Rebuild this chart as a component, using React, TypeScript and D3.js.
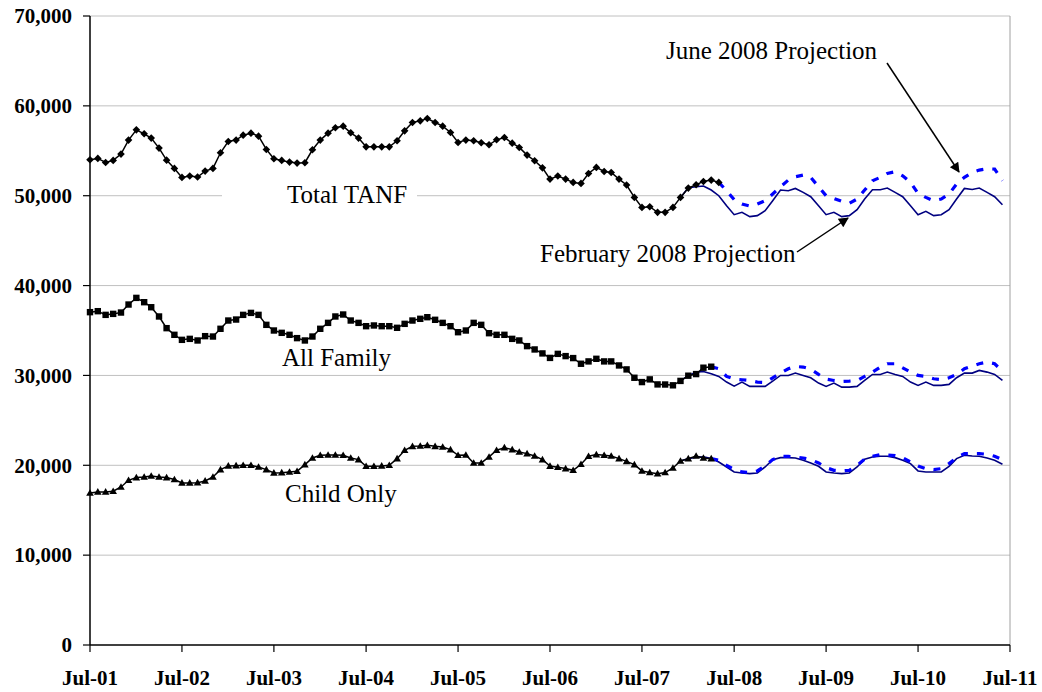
import React from 'react'
import * as d3 from 'd3'

// monthly caseloads, Jul-01 onward
const totalTanf = [
  54000, 54150, 53700, 53930, 54630, 56190, 57330, 56890, 56410, 55300, 53960, 53040,
  52040, 52190, 52080, 52740, 53040, 54780, 56040, 56190, 56740, 56960, 56630, 55150,
  54110, 53930, 53740, 53630, 53670, 55110, 56190, 56960, 57560, 57740, 57000, 56410,
  55440, 55440, 55440, 55440, 56110, 57220, 58150, 58330, 58590, 58150, 57740, 57040,
  55930, 56190, 56110, 55890, 55670, 56220, 56480, 55850, 55370, 54520, 53890, 53100,
  51850, 52200, 51850, 51480, 51370, 52480, 53150, 52700, 52590, 51850, 51190, 49810,
  48700, 48780, 48150, 48150, 48700, 49810, 50850, 51220, 51590, 51740, 51480,
]
const allFamily = [
  37040, 37150, 36740, 36850, 37000, 37890, 38630, 38150, 37590, 36560, 35260, 34520,
  33960, 34070, 33890, 34370, 34330, 35190, 36110, 36220, 36740, 36960, 36740, 35630,
  35000, 34740, 34520, 34150, 33890, 34330, 35190, 35850, 36560, 36780, 36110, 35850,
  35480, 35560, 35480, 35480, 35300, 35740, 36110, 36300, 36480, 36190, 35850, 35480,
  34810, 35000, 35850, 35630, 34700, 34520, 34520, 34070, 33890, 33260, 32890, 32450,
  31950, 32400, 32150, 31930, 31300, 31560, 31850, 31560, 31560, 31110, 30670, 29740,
  29260, 29560, 29000, 28990, 28900, 29390, 29970, 30150, 30860, 30970,
]
const childOnly = [
  16920, 17040, 17040, 17110, 17590, 18330, 18630, 18700, 18810, 18700, 18630, 18410,
  18040, 18040, 18070, 18260, 18700, 19520, 19930, 19960, 20000, 20000, 19810, 19520,
  19150, 19180, 19260, 19330, 20070, 20810, 21110, 21150, 21150, 21110, 20810, 20630,
  19890, 19890, 19930, 20000, 20740, 21670, 22110, 22150, 22220, 22110, 22040, 21740,
  21110, 21150, 20260, 20260, 20930, 21670, 21960, 21740, 21480, 21300, 21040, 20630,
  19910, 19780, 19630, 19440, 20110, 21000, 21190, 21110, 21040, 20740, 20440, 20070,
  19370, 19190, 19070, 19190, 19700, 20480, 20740, 21040, 20810, 20740,
]

// February 2008 projection, Dec-07 to Jun-11
const febStart = 77
const febTotal = [
  49810, 50890, 51000, 51080, 50630, 50000, 48890, 47890, 48150, 47670, 47780, 48330,
  49440, 50630, 50560, 50810, 50370, 49890, 48890, 47890, 48150, 47670, 47780, 48440,
  49630, 50670, 50670, 50850, 50370, 49890, 48890, 47890, 48260, 47780, 47890, 48440,
  49630, 50810, 50700, 50850, 50370, 49890, 49000,
]
const febAllFamily = [
  29390, 29970, 30370, 30440, 30190, 29890, 29260, 28810, 29260, 28780, 28780, 28780,
  29370, 30000, 30000, 30260, 30000, 29740, 29150, 28780, 29150, 28700, 28700, 28780,
  29440, 30110, 30110, 30370, 30110, 29890, 29260, 28890, 29260, 28890, 28890, 29000,
  29740, 30260, 30260, 30560, 30370, 30110, 29440,
]
const febChildOnly = [
  20480, 20740, 20890, 20930, 20740, 20370, 19810, 19260, 19150, 19070, 19150, 19810,
  20630, 20850, 20850, 20810, 20560, 20260, 19890, 19260, 19150, 19070, 19150, 19810,
  20670, 20930, 21000, 21000, 20850, 20560, 20190, 19370, 19260, 19260, 19260, 19890,
  20740, 21110, 21040, 21000, 20810, 20560, 20110,
]

// June 2008 projection, from last actual month to Jun-11
const junTotalStart = 82
const junTotal = [
  51480, 50560, 49560, 49070, 48850, 49070, 49440, 50190, 51000, 51740, 52110, 52300,
  52040, 51000, 50000, 49700, 49370, 49150, 49630, 50630, 51670, 52040, 52480, 52670,
  52220, 51480, 50260, 49810, 49440, 49630, 50190, 51300, 52040, 52590, 52850, 53000,
  52960, 51670,
]
const junStart = 81
const junAllFamily = [
  30970, 30740, 29890, 29590, 29520, 29440, 29260, 29220, 29740, 30260, 30740, 31000,
  30930, 30700, 30110, 29590, 29440, 29330, 29370, 29440, 29890, 30370, 30930, 31300,
  31300, 30850, 30370, 30000, 29890, 29630, 29520, 29740, 30110, 30740, 31040, 31300,
  31480, 31300, 30480,
]
const junChildOnly = [
  20740, 20560, 20000, 19520, 19260, 19190, 19370, 19930, 20630, 21000, 21000, 20930,
  20810, 20630, 20260, 19740, 19440, 19370, 19440, 20000, 20670, 21000, 21190, 21150,
  21070, 20850, 20370, 19930, 19630, 19520, 19630, 20190, 20850, 21300, 21300, 21300,
  21220, 21000, 20630,
]

const yTicks = [0, 10000, 20000, 30000, 40000, 50000, 60000, 70000]
const xTickLabels = ['Jul-01', 'Jul-02', 'Jul-03', 'Jul-04', 'Jul-05', 'Jul-06', 'Jul-07', 'Jul-08', 'Jul-09', 'Jul-10', 'Jul-11']

const startDate = new Date(2001, 6, 1)
const monthDate = (i: number) => d3.timeMonth.offset(startDate, i)
const toPoints = (vals: number[], start: number) => vals.map((v, k) => ({ date: monthDate(start + k), value: v }))

const FONT = "'Times New Roman', 'Liberation Serif', serif"

export default function App() {
  const width = 1042
  const height = 692
  const left = 90, right = 1010, top = 16, bottom = 645

  const x = d3.scaleTime()
    .domain([startDate, monthDate(120)])
    .range([left, right])
  const y = d3.scaleLinear()
    .domain([0, 70000])
    .range([bottom, top])

  const line = d3.line<{ date: Date; value: number }>()
    .x((d) => x(d.date))
    .y((d) => y(d.value))

  const actual = [
    { key: 'total', pts: toPoints(totalTanf, 0), marker: 'diamond' },
    { key: 'family', pts: toPoints(allFamily, 0), marker: 'square' },
    { key: 'child', pts: toPoints(childOnly, 0), marker: 'triangle' },
  ]
  const feb = [febTotal, febAllFamily, febChildOnly].map((v) => toPoints(v, febStart))
  const jun = [
    toPoints(junTotal, junTotalStart),
    toPoints(junAllFamily, junStart),
    toPoints(junChildOnly, junStart),
  ]

  const marker = (type: string, cx: number, cy: number, key: string) => {
    if (type === 'diamond') {
      const r = 3.8
      return <path key={key} d={`M${cx},${cy - r}L${cx + r},${cy}L${cx},${cy + r}L${cx - r},${cy}Z`} fill="#000" />
    }
    if (type === 'square') {
      return <rect key={key} x={cx - 3.2} y={cy - 3.2} width={6.4} height={6.4} fill="#000" />
    }
    return <path key={key} d={`M${cx},${cy - 3.8}L${cx + 3.8},${cy + 2.8}L${cx - 3.8},${cy + 2.8}Z`} fill="#000" />
  }

  return (
    <svg width={width} height={height} style={{ position: 'absolute', left: 0, top: 0, background: '#fff' }}
      fontFamily={FONT}>
      <defs>
        <marker id="arrow" viewBox="0 0 10 10" refX="9" refY="5" markerWidth="12" markerHeight="10"
          markerUnits="userSpaceOnUse" orient="auto">
          <path d="M0,0L10,5L0,10Z" fill="#000" />
        </marker>
      </defs>

      {/* gridlines */}
      {yTicks.filter((t) => t > 0).map((t) => (
        <line key={t} x1={left} x2={right} y1={y(t)} y2={y(t)} stroke="#c0c0c0" strokeWidth={1} />
      ))}
      <line x1={right} x2={right} y1={top} y2={bottom} stroke="#a0a0a0" strokeWidth={1} />

      {/* label box hiding gridline */}
      <rect x={222} y={183} width={195} height={26} fill="#fff" />

      {/* axes */}
      <line x1={left} x2={left} y1={top} y2={bottom} stroke="#000" strokeWidth={1.5} />
      <line x1={left} x2={right} y1={bottom} y2={bottom} stroke="#000" strokeWidth={1.5} />
      {yTicks.map((t) => (
        <g key={t}>
          <line x1={left - 7} x2={left} y1={y(t)} y2={y(t)} stroke="#000" strokeWidth={1.2} />
          <text x={72} y={y(t)} dy="0.35em" textAnchor="end" fontWeight="bold" fontSize={21}>
            {d3.format(',')(t)}
          </text>
        </g>
      ))}
      {xTickLabels.map((lab, i) => {
        const xx = x(monthDate(i * 12))
        return (
          <g key={lab}>
            <line x1={xx} x2={xx} y1={bottom} y2={bottom + 7} stroke="#000" strokeWidth={1.2} />
            <text x={xx} y={685} textAnchor="middle" fontWeight="bold" fontSize={21}>{lab}</text>
          </g>
        )
      })}

      {/* February 2008 projection */}
      {feb.map((pts, i) => (
        <path key={'feb' + i} d={line(pts) || ''} fill="none" stroke="#000080" strokeWidth={1.6} />
      ))}

      {/* June 2008 projection */}
      {jun.map((pts, i) => (
        <path key={'jun' + i} d={line(pts) || ''} fill="none" stroke="#0000ff" strokeWidth={3.2}
          strokeDasharray="7 9" />
      ))}

      {/* actual */}
      {actual.map((s) => (
        <g key={s.key}>
          <path d={line(s.pts) || ''} fill="none" stroke="#000" strokeWidth={1.5} />
          {s.pts.map((p, i) => marker(s.marker, x(p.date), y(p.value), s.key + i))}
        </g>
      ))}

      {/* labels */}
      <text x={287} y={203} fontSize={25}>Total TANF</text>
      <text x={282} y={366} fontSize={25}>All Family</text>
      <text x={285} y={502} fontSize={25}>Child Only</text>

      <text x={666} y={59} fontSize={25}>June 2008 Projection</text>
      <line x1={887} y1={63} x2={959} y2={172} stroke="#000" strokeWidth={1.5} markerEnd="url(#arrow)" />

      <text x={540} y={262} fontSize={25}>February 2008 Projection</text>
      <line x1={797} y1={252} x2={848} y2={218} stroke="#000" strokeWidth={1.5} markerEnd="url(#arrow)" />
    </svg>
  )
}
